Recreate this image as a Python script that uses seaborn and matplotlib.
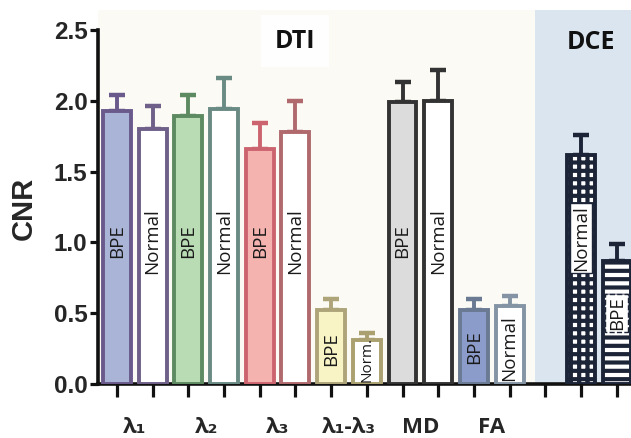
import numpy as np
import pandas as pd
import matplotlib
matplotlib.use("Agg")
import matplotlib.pyplot as plt
import matplotlib.ticker as ticker
import seaborn as sns

# data
positions = [0, 1, 2, 3, 4, 5, 6, 7, 8, 9, 10, 11, 13, 14]
cnr = [1.93, 1.80, 1.89, 1.94, 1.66, 1.78, 0.52, 0.31, 1.99, 2.00, 0.52, 0.55, 1.62, 0.87]
sem = [0.11, 0.16, 0.15, 0.22, 0.18, 0.22, 0.08, 0.05, 0.14, 0.22, 0.08, 0.07, 0.14, 0.12]
bar_text = ["BPE", "Normal", "BPE", "Normal", "BPE", "Normal", "BPE", "Norm.",
            "BPE", "Normal", "BPE", "Normal", "Normal", "BPE"]
group_labels = ["λ₁", "λ₂", "λ₃", "λ₁-λ₃", "MD", "FA"]
group_centers = [0.5, 2.5, 4.5, 6.5, 8.5, 10.5]
yticks = [0.0, 0.5, 1.0, 1.5, 2.0, 2.5]

# styling
faces = ["#aab4d6", "white", "#b9dcb4", "white", "#f4b3ae", "white", "#f8f4c6", "white",
         "#dcdcdc", "white", "#8c9cca", "white", "white", "white"]
edges = ["#6a5a8c", "#6e6088", "#5e8a62", "#6a8a84", "#cc6470", "#b06a6e", "#aea47a", "#aaa070",
         "#333333", "#333333", "#6a7a92", "#8494a4", "#1c2438", "#1c2438"]
hatches = [None] * 12 + ["++", "--"]
text_y = [1.01, 1.01, 1.01, 1.01, 1.01, 1.01, 0.25, 0.17, 1.01, 1.01, 0.26, 0.25, 1.03, 0.50]
text_size = [13.5] * 7 + [11] + [13.5] * 6

df = pd.DataFrame({"pos": positions, "cnr": cnr})

sns.set_style("ticks")
plt.rcParams["hatch.linewidth"] = 3.0
plt.rcParams["font.family"] = ["Open Sans", "DejaVu Sans"]

fig = plt.figure(figsize=(6.31, 4.38), dpi=100)
ax = fig.add_axes([0.1553, 0.1233, 0.8447, 0.854])
ax.set_facecolor("#fbfaf4")

sns.barplot(data=df, x="pos", y="cnr", order=list(range(15)), width=0.78,
            errorbar=None, ax=ax, zorder=3)

bars = sorted(ax.patches, key=lambda p: p.get_x())
for i, p in enumerate(bars):
    p.set_facecolor(faces[i])
    p.set_edgecolor(edges[i])
    p.set_linewidth(2.8)
    if hatches[i]:
        p.set_hatch(hatches[i])
    cx = p.get_x() + p.get_width() / 2
    ax.errorbar(cx, cnr[i], yerr=[[0], [sem[i]]], fmt="none", ecolor=edges[i],
                elinewidth=2.8, capsize=5.5, capthick=3.2, zorder=2)
    if i >= 12:
        box = dict(boxstyle="square,pad=0.12", facecolor="white", edgecolor=edges[i],
                   linewidth=1.0, linestyle="--" if i == 13 else "-")
    else:
        box = None
    ax.text(cx, text_y[i], bar_text[i], rotation=90, ha="center", va="center",
            fontsize=text_size[i], color="#1a1a1a", zorder=5, bbox=box)

ax.axvspan(11.7, 14.6, color="#dbe5f0", zorder=0, lw=0)

ax.set_xlim(-0.53, 14.4)
ax.set_ylim(0, 2.641)
ax.set_xlabel("")
ax.set_ylabel("CNR", fontsize=21, fontweight="bold", family="Liberation Sans", labelpad=13)
ax.yaxis.set_label_coords(-0.113, 0.47)

ax.set_yticks(yticks)
ax.yaxis.set_major_formatter(ticker.FormatStrFormatter("%.1f"))
for lab in ax.get_yticklabels():
    lab.set_fontfamily("Liberation Sans")
    lab.set_fontweight("bold")
    lab.set_fontsize(17.5)
ax.tick_params(axis="y", length=6, width=2.3, pad=1.5, color="#111111")

ax.set_xticks(range(15))
ax.set_xticklabels([""] * 15)
ax.set_xticks(group_centers, minor=True)
ax.set_xticklabels(group_labels, minor=True, fontsize=16, fontweight="bold")
ax.tick_params(axis="x", which="major", length=9, width=2.3, color="#111111")
ax.tick_params(axis="x", which="minor", length=0, pad=24)

for s in ["top", "right"]:
    ax.spines[s].set_visible(False)
ax.spines["left"].set_linewidth(2.6)
ax.spines["bottom"].set_linewidth(2.6)
ax.spines["left"].set_color("#111111")
ax.spines["bottom"].set_color("#111111")
ax.spines["left"].set_bounds(0, 2.5)

ax.text(5.0, 2.42, "DTI", ha="center", va="center", fontsize=18, fontweight="bold",
        color="#111111", bbox=dict(boxstyle="square,pad=0.55", facecolor="#fefefe", edgecolor="none"))
ax.text(13.27, 2.41, "DCE", ha="center", va="center", fontsize=18, fontweight="bold",
        color="#111111")

fig.savefig("out.png", dpi=100)
